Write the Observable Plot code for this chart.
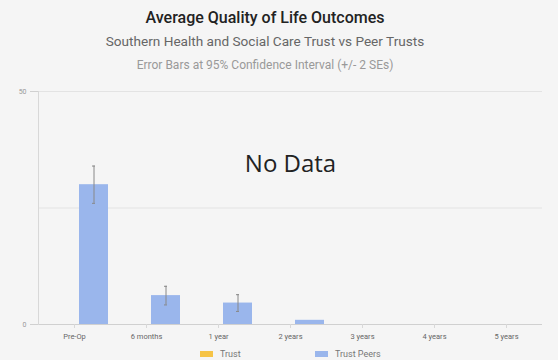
<!DOCTYPE html>
<html>
<head>
<meta charset="utf-8">
<script src="https://cdn.jsdelivr.net/npm/d3@7"></script>
<script src="https://cdn.jsdelivr.net/npm/@observablehq/plot@0.6"></script>
<style>
  html, body { margin: 0; padding: 0; background: #f5f5f5; }
  #wrap { position: relative; width: 558px; height: 360px; background: #f5f5f5; overflow: hidden; font-family: Roboto, "Open Sans", sans-serif; }
  .hdr { position: absolute; left: 0; width: 530px; text-align: center; white-space: nowrap; }
  #title { top: 8px; font-size: 16px; font-weight: 500; color: #222; }
  #sub { top: 33px; font-size: 13.6px; color: #666; }
  #note { top: 58px; font-size: 12px; color: #999; }
  #chart { position: absolute; left: 0; top: 78px; }
  #legend { position: absolute; top: 349px; left: 0; width: 558px; height: 12px; font-size: 9px; color: #777; }
  .item { position: absolute; display: flex; align-items: center; gap: 7px; }
  .sw { width: 13px; height: 6px; display: inline-block; }
</style>
</head>
<body>
<div id="wrap">
  <div id="title" class="hdr">Average Quality of Life Outcomes</div>
  <div id="sub" class="hdr">Southern Health and Social Care Trust vs Peer Trusts</div>
  <div id="note" class="hdr">Error Bars at 95% Confidence Interval (+/- 2 SEs)</div>
  <div id="chart"></div>
  <div id="legend"></div>
</div>
<script>
const categories = ["Pre-Op", "6 months", "1 year", "2 years", "3 years", "4 years", "5 years"];
const series = ["Trust", "Trust Peers"];
const seriesColors = ["#f6c447", "#9ab6ec"];
// Trust has no data; peer values and 2-SE half-widths
const peerValues = [30.0, 6.2, 4.6, 0.9, 0, 0, 0];
const peerErrors = [4.0, 2.0, 1.8, 0.2, 0, 0, 0];
const yTicks = [0, 25, 50];
const yLabels = [0, 50];
const noDataText = "No Data";

const rows = categories.map((c, i) => ({
  category: c,
  series: "Trust Peers",
  value: peerValues[i],
  lo: peerValues[i] - peerErrors[i],
  hi: peerValues[i] + peerErrors[i]
}));
const errRows = rows.filter(d => d.hi > d.lo + 0.5);

const chart = Plot.plot({
  width: 558,
  height: 270,
  marginTop: 13,
  marginBottom: 24,
  marginLeft: 35,
  marginRight: 13,
  style: { background: "transparent", fontFamily: "Roboto, sans-serif" },
  fx: { domain: categories, padding: 0, label: null },
  x: { domain: series, paddingInner: 0.25, paddingOuter: 0.04, axis: null },
  y: { domain: [0, 50], axis: null },
  color: { domain: series, range: seriesColors },
  marks: [
    Plot.gridY(yTicks.filter(v => v > 0), { stroke: "#e3e3e3", strokeOpacity: 1 }),
    Plot.ruleY([0], { stroke: "#d0d0d0" }),
    Plot.frame({ anchor: "left", stroke: "#d8d8d8", facet: "super" }),
    Plot.axisY(yLabels, { tickSize: 8, tickPadding: 4, stroke: "#d0d0d0", fill: "#999", fontSize: 7, label: null }),
    Plot.axisFx({ anchor: "bottom", tickSize: 4, tickPadding: 5, stroke: "#d8d8d8", fill: "#666", fontSize: 7.5, label: null }),
    Plot.barY(rows, { fx: "category", x: "series", y: "value", fill: "series" }),
    Plot.ruleX(errRows, { fx: "category", x: "series", y1: "lo", y2: "hi", stroke: "#888", strokeWidth: 1 }),
    Plot.tickY(errRows, { fx: "category", x: "series", y: "lo", stroke: "#888", insetLeft: 13, insetRight: 13 }),
    Plot.tickY(errRows, { fx: "category", x: "series", y: "hi", stroke: "#888", insetLeft: 13, insetRight: 13 }),
    Plot.text([noDataText], { text: d => d, frameAnchor: "top", dy: 63, fontSize: 24, fill: "#222", fontFamily: "'Open Sans', sans-serif", facet: "super" })
  ]
});
document.getElementById("chart").appendChild(chart);

const legend = document.getElementById("legend");
const lx = [200, 315];
series.forEach((s, i) => {
  const it = document.createElement("div");
  it.className = "item";
  it.style.left = lx[i] + "px";
  const sw = document.createElement("span");
  sw.className = "sw";
  sw.style.background = seriesColors[i];
  const t = document.createElement("span");
  t.textContent = s;
  it.appendChild(sw);
  it.appendChild(t);
  legend.appendChild(it);
});
</script>
</body>
</html>
